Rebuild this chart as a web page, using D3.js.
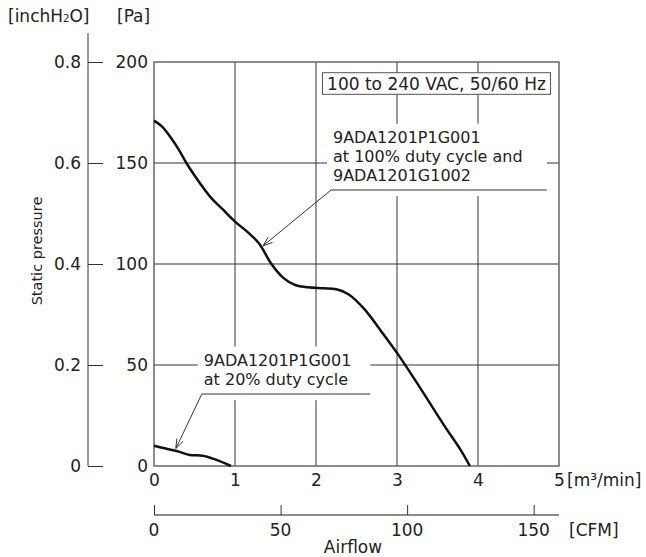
<!DOCTYPE html>
<html>
<head>
<meta charset="utf-8">
<script src="https://cdn.jsdelivr.net/npm/d3@7"></script>
<style>
  body { margin: 0; background: #fff; }
  svg { display: block; font-family: "DejaVu Sans", sans-serif; }
</style>
</head>
<body>
<div id="chart"></div>
<script>
// data: airflow [m3/min], static pressure [Pa]
var fullFlow = [0, 0.1, 0.2, 0.3, 0.4, 0.55, 0.7, 0.85, 1.0, 1.15, 1.3, 1.45, 1.6, 1.75, 1.9, 2.1, 2.25, 2.4, 2.6, 2.8, 3.0, 3.2, 3.4, 3.6, 3.8, 3.9];
var fullPressure = [171, 168, 163, 157, 150, 141, 133, 127, 121, 116, 110, 100, 93, 89.5, 88.5, 88, 87.5, 85, 77.5, 67, 56, 44, 31.5, 19, 7, 0];
var lowFlow = [0, 0.1, 0.28, 0.44, 0.6, 0.77, 0.95];
var lowPressure = [10, 9, 7.4, 5.5, 5.1, 3.0, 0];

var flowTicks = [0, 1, 2, 3, 4, 5];
var paTicks = [0, 50, 100, 150, 200];
var inchTicks = [0, 0.2, 0.4, 0.6, 0.8];
var cfmTicks = [0, 50, 100, 150];

var width = 646;
var height = 557;
var plotLeft = 154, plotRight = 559, plotTop = 62, plotBottom = 466;
var font = 17;
var ink = "#222";

var svg = d3.select("#chart")
    .append("svg")
    .attr("width", width)
    .attr("height", height);

var x = d3.scaleLinear().domain([0, 5]).range([plotLeft, plotRight]);
var y = d3.scaleLinear().domain([0, 200]).range([plotBottom, plotTop]);
var yInch = d3.scaleLinear().domain([0, 0.8]).range([plotBottom, plotTop]);
var xCfm = d3.scaleLinear().domain([0, 160]).range([plotLeft, plotRight]);

function label(sel, size) {
    return sel.style("font-size", (size || font) + "px").attr("fill", ink);
}

// grid
svg.append("g")
    .selectAll("line")
    .data(flowTicks.slice(1, -1))
    .enter()
    .append("line")
    .attr("x1", function(d) { return x(d); })
    .attr("x2", function(d) { return x(d); })
    .attr("y1", plotTop)
    .attr("y2", plotBottom)
    .attr("stroke", "#333")
    .attr("stroke-width", 1);

svg.append("g")
    .selectAll("line")
    .data(paTicks.slice(1, -1))
    .enter()
    .append("line")
    .attr("x1", plotLeft)
    .attr("x2", plotRight)
    .attr("y1", function(d) { return y(d); })
    .attr("y2", function(d) { return y(d); })
    .attr("stroke", "#333")
    .attr("stroke-width", 1);

// frame
svg.append("rect")
    .attr("x", plotLeft)
    .attr("y", plotTop)
    .attr("width", plotRight - plotLeft)
    .attr("height", plotBottom - plotTop)
    .attr("fill", "none")
    .attr("stroke", "#666")
    .attr("stroke-width", 1.5);

// bottom axis m3/min
var xAxis = d3.axisBottom(x).tickValues(flowTicks).tickSize(0).tickPadding(8).tickFormat(d3.format("d"));
var gx = svg.append("g").attr("transform", "translate(0," + plotBottom + ")").call(xAxis);
gx.attr("font-family", null).attr("font-size", null);
gx.select(".domain").remove();
label(gx.selectAll("text"));

label(svg.append("text"))
    .attr("x", x(5) + 8)
    .attr("y", plotBottom + 20)
    .text("[m³/min]");

// CFM axis
var cfmY = 515;
var cfmAxis = d3.axisTop(xCfm).tickValues(cfmTicks).tickSize(10).tickFormat("");
var gc = svg.append("g").attr("transform", "translate(0," + cfmY + ")").call(cfmAxis);
gc.select(".domain").attr("d", "M" + plotLeft + ",0H" + plotRight).attr("stroke", "#666").attr("stroke-width", 1.5);
gc.selectAll(".tick line").attr("stroke", "#333");

label(svg.append("g")
    .selectAll("text")
    .data(cfmTicks)
    .enter()
    .append("text"))
    .attr("x", function(d) { return xCfm(d); })
    .attr("y", cfmY + 21)
    .attr("text-anchor", "middle")
    .text(function(d) { return d; });

label(svg.append("text"))
    .attr("x", plotRight + 10)
    .attr("y", cfmY + 21)
    .text("[CFM]");

label(svg.append("text"))
    .attr("x", 353)
    .attr("y", height - 4)
    .attr("text-anchor", "middle")
    .text("Airflow");

// Pa axis labels
label(svg.append("g")
    .selectAll("text")
    .data(paTicks)
    .enter()
    .append("text"))
    .attr("x", plotLeft - 6)
    .attr("y", function(d) { return y(d); })
    .attr("dy", "0.35em")
    .attr("text-anchor", "end")
    .text(function(d) { return d; });

label(svg.append("text"))
    .attr("x", 117)
    .attr("y", 22)
    .text("[Pa]");

// inchH2O axis
var inchX = 88;
var inchAxis = d3.axisRight(yInch).tickValues(inchTicks).tickSize(15).tickFormat("");
var gi = svg.append("g").attr("transform", "translate(" + inchX + ",0)").call(inchAxis);
gi.select(".domain").attr("d", "M0,33V" + plotBottom).attr("stroke", "#333");
gi.selectAll(".tick line").attr("stroke", "#333");

label(svg.append("g")
    .selectAll("text")
    .data(inchTicks)
    .enter()
    .append("text"))
    .attr("x", inchX - 7)
    .attr("y", function(d) { return yInch(d); })
    .attr("dy", "0.35em")
    .attr("text-anchor", "end")
    .text(function(d) { return d === 0 ? "0" : d3.format(".1f")(d); });

var inchTitle = label(svg.append("text"))
    .attr("x", 8)
    .attr("y", 22);
inchTitle.append("tspan").text("[inchH");
inchTitle.append("tspan").style("font-size", "10px").text("2");
inchTitle.append("tspan").text("O]");

label(svg.append("text"), 14.5)
    .attr("transform", "translate(42,251) rotate(-90)")
    .attr("text-anchor", "middle")
    .text("Static pressure");

// voltage box
var boxX0 = 2.08, boxX1 = 4.895, boxP0 = 184, boxP1 = 194.7;
svg.append("rect")
    .attr("x", x(boxX0))
    .attr("y", y(boxP1))
    .attr("width", x(boxX1) - x(boxX0))
    .attr("height", y(boxP0) - y(boxP1))
    .attr("fill", "#fff")
    .attr("stroke", "#555")
    .attr("stroke-width", 1);
label(svg.append("text"))
    .attr("x", (x(boxX0) + x(boxX1)) / 2)
    .attr("y", (y(boxP0) + y(boxP1)) / 2)
    .attr("dy", "0.36em")
    .attr("text-anchor", "middle")
    .text("100 to 240 VAC, 50/60 Hz");

// annotations: underline start/end [m3/min], underline level [Pa], arrow tip
var annotations = [
    { lines: ["9ADA1201P1G001", "at 100% duty cycle and", "9ADA1201G1002"],
      x0: 2.185, x1: 4.85, p: 136.6, tipX: 1.346, tipP: 109 },
    { lines: ["9ADA1201P1G001", "at 20% duty cycle"],
      x0: 0.59, x1: 2.67, p: 35.6, tipX: 0.27, tipP: 8.7 }
];

var noteFont = 16;
var lineGap = 18.8;

annotations.forEach(function(a) {
    var ux0 = x(a.x0), ux1 = x(a.x1), uy = y(a.p);
    var n = a.lines.length;
    // white backing that breaks the grid
    svg.append("rect")
        .attr("x", ux0 - 4)
        .attr("y", uy - n * lineGap - 10)
        .attr("width", ux1 - ux0 + 4)
        .attr("height", n * lineGap + 16)
        .attr("fill", "#fff");
    label(svg.append("g")
        .selectAll("text")
        .data(a.lines)
        .enter()
        .append("text"), noteFont)
        .attr("x", ux0 + 2)
        .attr("y", function(d, i) { return uy - 9 - (n - 1 - i) * lineGap; })
        .text(function(d) { return d; });
    svg.append("line")
        .attr("x1", ux0)
        .attr("x2", ux1)
        .attr("y1", uy)
        .attr("y2", uy)
        .attr("stroke", "#777")
        .attr("stroke-width", 1.5);

    var tx = x(a.tipX), ty = y(a.tipP);
    svg.append("line")
        .attr("x1", ux0)
        .attr("y1", uy)
        .attr("x2", tx)
        .attr("y2", ty)
        .attr("stroke", "#333")
        .attr("stroke-width", 1);
    var ang = Math.atan2(uy - ty, ux0 - tx);
    var len = 10, spread = 0.35;
    var arrow = d3.path();
    arrow.moveTo(tx + len * Math.cos(ang + spread), ty + len * Math.sin(ang + spread));
    arrow.lineTo(tx, ty);
    arrow.lineTo(tx + len * Math.cos(ang - spread), ty + len * Math.sin(ang - spread));
    svg.append("path")
        .attr("d", arrow.toString())
        .attr("fill", "none")
        .attr("stroke", "#333")
        .attr("stroke-width", 1);
});

// curves
var line = d3.line()
    .x(function(d) { return x(d[0]); })
    .y(function(d) { return y(d[1]); })
    .curve(d3.curveMonotoneX);

svg.append("path")
    .datum(d3.zip(fullFlow, fullPressure))
    .attr("d", line)
    .attr("fill", "none")
    .attr("stroke", "#111")
    .attr("stroke-width", 2.5);

svg.append("path")
    .datum(d3.zip(lowFlow, lowPressure))
    .attr("d", line)
    .attr("fill", "none")
    .attr("stroke", "#111")
    .attr("stroke-width", 2.5);
</script>
</body>
</html>
